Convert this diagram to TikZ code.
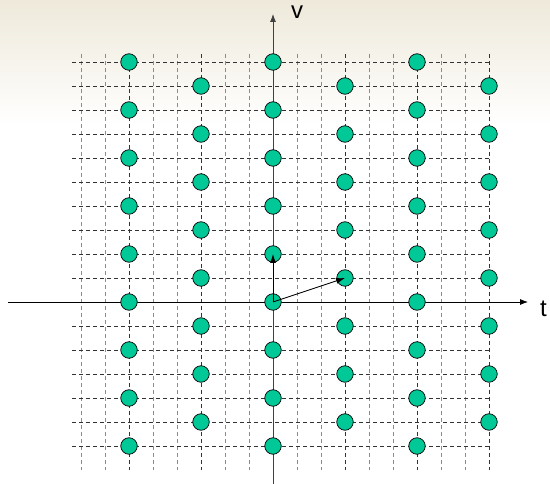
\documentclass[tikz,border=0pt]{standalone}
\usepackage{fontspec}
\setmainfont{Liberation Sans}
\usetikzlibrary{arrows.meta}
\definecolor{dotfill}{RGB}{0,200,150}
\definecolor{bgtop}{RGB}{238,233,218}
\begin{document}
\begin{tikzpicture}[x=1pt,y=-1pt,
  dot/.style={circle,draw=black,fill=dotfill,minimum size=16.5pt,inner sep=0pt,line width=0.7pt},
  hgrid/.style={dash pattern=on 4pt off 3pt,black!80,line width=0.7pt},
  vgridlight/.style={dash pattern=on 4pt off 3pt,black!45,line width=1pt},
  vgriddark/.style={dash pattern=on 4pt off 3pt,black!80,line width=1pt},
  axisline/.style={-{Latex[length=8pt,width=6pt]},line width=0.8pt},
  vecline/.style={-{Latex[length=9pt,width=6pt]},line width=0.8pt},
  lab/.style={anchor=base west,inner sep=0pt,font=\fontsize{24}{28}\selectfont}]
\useasboundingbox (0,0) rectangle (550,484);
\fill[white] (0,0) rectangle (550,484);
\shade[top color=bgtop,bottom color=white] (0,0) rectangle (550,125);
% grid
\foreach \i in {0,...,17}{
  \pgfmathtruncatemacro{\m}{mod(\i,3)}
  \pgfmathsetmacro{\xx}{81+24*\i}
  \ifnum\m=2
    \draw[vgriddark] (\xx,54) -- (\xx,470);
  \else
    \draw[vgridlight] (\xx,54) -- (\xx,470);
  \fi
}
\foreach \j in {0,...,16}{
  \pgfmathsetmacro{\yy}{62+24*\j}
  \draw[hgrid] (72,\yy) -- (490,\yy);
}
% axes
\coordinate (xl) at (8,302);
\coordinate (xr) at (528,302);
\coordinate (yb) at (273,484);
\coordinate (yt) at (273,14);
\draw[axisline] (xl) -- (xr);
\draw[axisline,black!75] (yb) -- (yt);
\node[lab] (tlab) at (540,317) {t};
\node[lab] (vlab) at (291,19) {v};
% dots
\foreach \i in {2,8,14}{
  \foreach \j in {0,2,...,16}{
    \node[dot] (d-\i-\j) at (81+24*\i,62+24*\j) {};
  }
}
\foreach \i in {5,11,17}{
  \foreach \j in {1,3,...,15}{
    \node[dot] (d-\i-\j) at (81+24*\i,62+24*\j) {};
  }
}
% vectors
\draw[vecline] (d-8-10.center) -- (d-8-8.center);
\draw[vecline] (d-8-10.center) -- (d-11-9.center);
\end{tikzpicture}
\end{document}
